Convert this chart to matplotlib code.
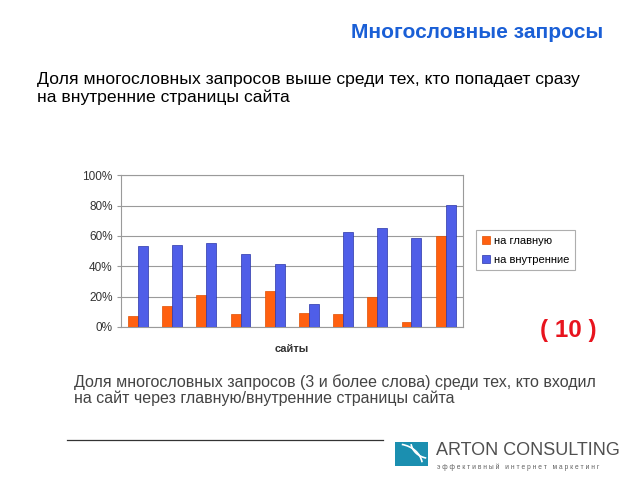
import matplotlib
matplotlib.use('Agg')
import numpy as np
from matplotlib import pyplot as plt
from matplotlib.patches import Rectangle, Arc

plt.rcParams['font.family'] = ['Liberation Sans', 'DejaVu Sans']

# data (percent)
series_names = ['на главную', 'на внутренние']
main_page = [7.5, 14, 21.3, 8.4, 23.5, 9.2, 8.4, 19.8, 3, 60]
inner_pages = [53, 54, 55.4, 48, 41.3, 15.4, 62.4, 65.3, 58.5, 80.2]
y_ticks = [0, 20, 40, 60, 80, 100]

fig = plt.figure(figsize=(6.4, 4.8), dpi=100)

# headings
fig.text(0.942, 0.932, 'Многословные запросы', color='#1a5fd6',
         fontsize=15, fontweight='bold', ha='right', va='center')
fig.text(0.058, 0.815, 'Доля многословных запросов выше среди тех, кто попадает сразу\n'
         'на внутренние страницы сайта', fontsize=12.6, ha='left', va='center',
         linespacing=1.2)

# chart
ax = fig.add_axes([0.189, 0.319, 0.534, 0.316])
x = np.arange(len(main_page))
w = 0.29
ax.bar(x - w / 2, main_page, w, color='#ff6010', edgecolor='#e05000',
       linewidth=0.5, label=series_names[0], zorder=3)
ax.bar(x + w / 2, inner_pages, w, color='#4f5ee8', edgecolor='#2a35a8',
       linewidth=0.5, label=series_names[1], zorder=3)
ax.set_xlim(-0.5, len(main_page) - 0.5)
ax.set_ylim(0, 100)
ax.set_yticks(y_ticks)
ax.set_yticklabels([f'{v}%' for v in y_ticks], fontsize=8.5, color='#333333')
ax.set_xticks([])
ax.grid(axis='y', color='#9a9a9a', linewidth=0.8, zorder=0)
for s in ax.spines.values():
    s.set_color('#9a9a9a')
    s.set_linewidth(0.8)
ax.tick_params(axis='y', length=3, color='#9a9a9a', pad=3)
ax.set_xlabel('сайты', fontsize=8, fontweight='bold', color='#333333', labelpad=12)

leg = fig.legend(loc='center left', bbox_to_anchor=(0.735, 0.479), fontsize=8,
                 frameon=True, fancybox=False, handlelength=0.8, handleheight=0.8,
                 handletextpad=0.3, borderpad=0.5, labelspacing=0.8)
leg.get_frame().set_edgecolor('#9a9a9a')
leg.get_frame().set_linewidth(0.8)

fig.text(0.888, 0.312, '( 10 )', color='#e8141e', fontsize=17.5,
         fontweight='bold', ha='center', va='center')

fig.text(0.116, 0.188, 'Доля многословных запросов (3 и более слова) среди тех, кто входил\n'
         'на сайт через главную/внутренние страницы сайта', fontsize=11.5,
         color='#444444', ha='left', va='center', linespacing=1.05)

# footer line
fig.add_artist(plt.Line2D([0.105, 0.598], [0.083, 0.083], color='#333333', linewidth=0.9))

# logo
fig.add_artist(Rectangle((0.617, 0.03), 0.051, 0.05, facecolor='#1b8fb0',
                         edgecolor='none', transform=fig.transFigure))
fig.add_artist(Arc((0.62, 0.03), 0.08, 0.09, theta1=10, theta2=80, color='white',
                   linewidth=1.2, transform=fig.transFigure))
fig.add_artist(Arc((0.672, 0.08), 0.06, 0.07, theta1=190, theta2=260, color='white',
                   linewidth=1.2, transform=fig.transFigure))
fig.text(0.681, 0.061, 'ARTON CONSULTING', color='#505050', fontsize=13,
         ha='left', va='center')
fig.text(0.683, 0.027, 'э ф ф е к т и в н ы й   и н т е р н е т   м а р к е т и н г',
         color='#606060', fontsize=4.8, ha='left', va='center')

fig.savefig('out.png', dpi=100)
